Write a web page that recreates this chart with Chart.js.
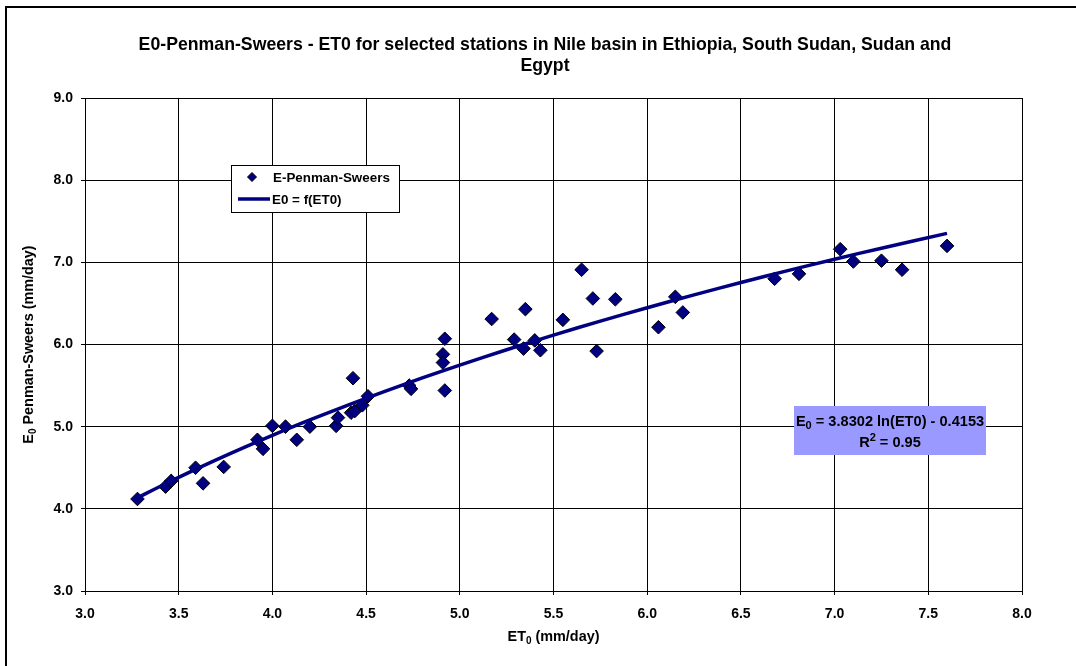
<!DOCTYPE html>
<html>
<head>
<meta charset="utf-8">
<script src="https://cdn.jsdelivr.net/npm/chart.js@4.4.1/dist/chart.umd.min.js"></script>
<style>
  html, body { margin: 0; padding: 0; background: #fff; overflow: hidden; }
  #wrap { width: 1076px; height: 666px; position: relative; }
</style>
</head>
<body>
<div id="wrap"><canvas id="chart" width="1076" height="666"></canvas></div>
<script>
// Station values: reference evapotranspiration ET0 vs. Penman-Sweers E0 (mm/day)
const et0Values = [
  3.28, 3.43, 3.46, 3.59, 3.63, 3.74, 3.92, 3.95, 4.00, 4.07,
  4.13, 4.20, 4.34, 4.35, 4.42, 4.44, 4.43, 4.48, 4.51, 4.73,
  4.74, 4.91, 4.91, 4.92, 4.92, 5.17, 5.29, 5.34, 5.35, 5.40,
  5.43, 5.55, 5.65, 5.71, 5.73, 5.83, 6.06, 6.15, 6.19, 6.68,
  6.81, 7.03, 7.10, 7.25, 7.36, 7.60
];
const e0Values = [
  4.12, 4.27, 4.34, 4.50, 4.31, 4.51, 4.84, 4.73, 5.01, 5.00,
  4.84, 5.00, 5.01, 5.11, 5.17, 5.19, 5.59, 5.26, 5.37, 5.50,
  5.46, 5.88, 5.78, 6.07, 5.44, 6.31, 6.06, 5.95, 6.43, 6.05,
  5.93, 6.30, 6.91, 6.56, 5.92, 6.55, 6.21, 6.58, 6.39, 6.80,
  6.86, 7.16, 7.01, 7.02, 6.91, 7.20
];

// Logarithmic trend E0 = a ln(ET0) + b, sampled over the observed ET0 range
const trendCoefficients = [3.8302, -0.4153];
const rSquared = 0.95;
const trendX = [
  3.28, 3.40, 3.55, 3.70, 3.85, 4.00, 4.20, 4.40, 4.60, 4.80,
  5.00, 5.25, 5.50, 5.75, 6.00, 6.25, 6.50, 6.75, 7.00, 7.25, 7.60
];

// Axis tick labels
const xTicks = [3.0, 3.5, 4.0, 4.5, 5.0, 5.5, 6.0, 6.5, 7.0, 7.5, 8.0];
const yTicks = [3.0, 4.0, 5.0, 6.0, 7.0, 8.0, 9.0];

const titleLines = [
  'E0-Penman-Sweers - ET0 for selected stations in Nile basin in Ethiopia, South Sudan, Sudan and',
  'Egypt'
];
const seriesNames = ['E-Penman-Sweers', 'E0 = f(ET0)'];

const FONT = '"Liberation Sans", Arial, Helvetica, sans-serif';
const NAVY = '#000080';

const scatterPoints = et0Values.map((x, i) => ({ x: x, y: e0Values[i] }));
const trendPoints = trendX.map(x => ({
  x: x,
  y: trendCoefficients[0] * Math.log(x) + trendCoefficients[1]
}));

// Text with sub/superscript pieces: parts = [[text, ''|'sub'|'sup'], ...]
function drawRich(ctx, parts, x, baseline, size, align) {
  const base = 'bold ' + size + 'px ' + FONT;
  const small = 'bold ' + Math.round(size * 0.72) + 'px ' + FONT;
  let w = 0;
  parts.forEach(p => { ctx.font = p[1] ? small : base; w += ctx.measureText(p[0]).width; });
  let cx = align === 'center' ? x - w / 2 : (align === 'right' ? x - w : x);
  ctx.textAlign = 'left';
  ctx.textBaseline = 'alphabetic';
  parts.forEach(p => {
    ctx.font = p[1] ? small : base;
    const dy = p[1] === 'sub' ? size * 0.22 : (p[1] === 'sup' ? -size * 0.42 : 0);
    ctx.fillText(p[0], cx, baseline + dy);
    cx += ctx.measureText(p[0]).width;
  });
}

const decorations = {
  id: 'decorations',
  beforeDraw(chart) {
    const ctx = chart.ctx;
    ctx.save();
    ctx.fillStyle = '#fff';
    ctx.fillRect(0, 0, chart.width, chart.height);
    ctx.restore();
  },
  afterDraw(chart) {
    const ctx = chart.ctx;
    const area = chart.chartArea;
    ctx.save();

    // outer frame
    ctx.strokeStyle = '#000';
    ctx.lineWidth = 2;
    ctx.strokeRect(6, 7, chart.width + 20, chart.height + 20);

    ctx.fillStyle = '#000';
    // title
    ctx.font = 'bold 17.7px ' + FONT;
    ctx.textAlign = 'center';
    ctx.textBaseline = 'alphabetic';
    ctx.fillText(titleLines[0], 545, 50);
    ctx.fillText(titleLines[1], 545, 71);

    // x axis title
    drawRich(ctx, [['ET', ''], ['0', 'sub'], [' (mm/day)', '']],
      (area.left + area.right) / 2, 641, 14.4, 'center');

    // y axis title
    ctx.save();
    ctx.translate(33, (area.top + area.bottom) / 2);
    ctx.rotate(-Math.PI / 2);
    drawRich(ctx, [['E', ''], ['0', 'sub'], [' Penman-Sweers (mm/day)', '']], 0, 0, 14.4, 'center');
    ctx.restore();

    // legend
    const lx = 231, ly = 165, lw = 168, lh = 47;
    ctx.fillStyle = '#fff';
    ctx.fillRect(lx, ly, lw, lh);
    ctx.strokeStyle = '#000';
    ctx.lineWidth = 1;
    ctx.strokeRect(lx + 0.5, ly + 0.5, lw, lh);
    // marker entry
    ctx.fillStyle = NAVY;
    ctx.strokeStyle = '#000';
    ctx.beginPath();
    ctx.moveTo(252, 172.5);
    ctx.lineTo(256.5, 177);
    ctx.lineTo(252, 181.5);
    ctx.lineTo(247.5, 177);
    ctx.closePath();
    ctx.fill();
    ctx.stroke();
    // line entry
    ctx.strokeStyle = NAVY;
    ctx.lineWidth = 3.5;
    ctx.beginPath();
    ctx.moveTo(238, 199);
    ctx.lineTo(270, 199);
    ctx.stroke();
    ctx.fillStyle = '#000';
    ctx.font = 'bold 13.4px ' + FONT;
    ctx.textAlign = 'left';
    ctx.fillText(seriesNames[0], 273, 182);
    ctx.fillText(seriesNames[1], 272, 204);

    // equation box
    ctx.fillStyle = '#9999FF';
    ctx.fillRect(794, 406, 192, 49);
    ctx.fillStyle = '#000';
    const a = trendCoefficients[0].toFixed(4);
    const b = Math.abs(trendCoefficients[1]).toFixed(4);
    drawRich(ctx, [['E', ''], ['0', 'sub'], [' = ' + a + ' ln(ET0) - ' + b, '']], 890, 425.5, 14.6, 'center');
    drawRich(ctx, [['R', ''], ['2', 'sup'], [' = ' + rSquared.toFixed(2), '']], 890, 447, 14.6, 'center');

    ctx.restore();
  }
};

new Chart(document.getElementById('chart'), {
  type: 'scatter',
  data: {
    datasets: [
      {
        label: seriesNames[1],
        type: 'line',
        data: trendPoints,
        borderColor: NAVY,
        borderWidth: 3.5,
        pointRadius: 0,
        tension: 0.4,
        fill: false,
        order: 0
      },
      {
        label: seriesNames[0],
        data: scatterPoints,
        pointStyle: 'rectRot',
        pointRadius: 6.8,
        pointHoverRadius: 6.8,
        backgroundColor: NAVY,
        borderColor: '#000',
        borderWidth: 1,
        order: 1
      }
    ]
  },
  options: {
    responsive: false,
    animation: false,
    devicePixelRatio: 1,
    layout: { padding: { top: 98, right: 54, bottom: 0, left: 0 } },
    plugins: {
      legend: { display: false },
      title: { display: false },
      tooltip: { enabled: false }
    },
    scales: {
      x: {
        type: 'linear',
        min: xTicks[0],
        max: xTicks[xTicks.length - 1],
        afterBuildTicks: s => { s.ticks = xTicks.map(v => ({ value: v })); },
        afterFit: s => { s.height = 75; },
        ticks: {
          color: '#000',
          font: { family: FONT, size: 14, weight: 'bold' },
          padding: 11,
          maxRotation: 0,
          callback: v => Number(v).toFixed(1)
        },
        grid: { color: '#000', lineWidth: 1, tickLength: 4, drawTicks: true },
        border: { color: '#000', width: 1 }
      },
      y: {
        type: 'linear',
        min: yTicks[0],
        max: yTicks[yTicks.length - 1],
        afterBuildTicks: s => { s.ticks = yTicks.map(v => ({ value: v })); },
        afterFit: s => { s.width = 85; },
        ticks: {
          color: '#000',
          font: { family: FONT, size: 14, weight: 'bold' },
          padding: 8,
          callback: v => Number(v).toFixed(1)
        },
        grid: { color: '#000', lineWidth: 1, tickLength: 4, drawTicks: true },
        border: { color: '#000', width: 1 }
      }
    }
  },
  plugins: [decorations]
});
</script>
</body>
</html>
